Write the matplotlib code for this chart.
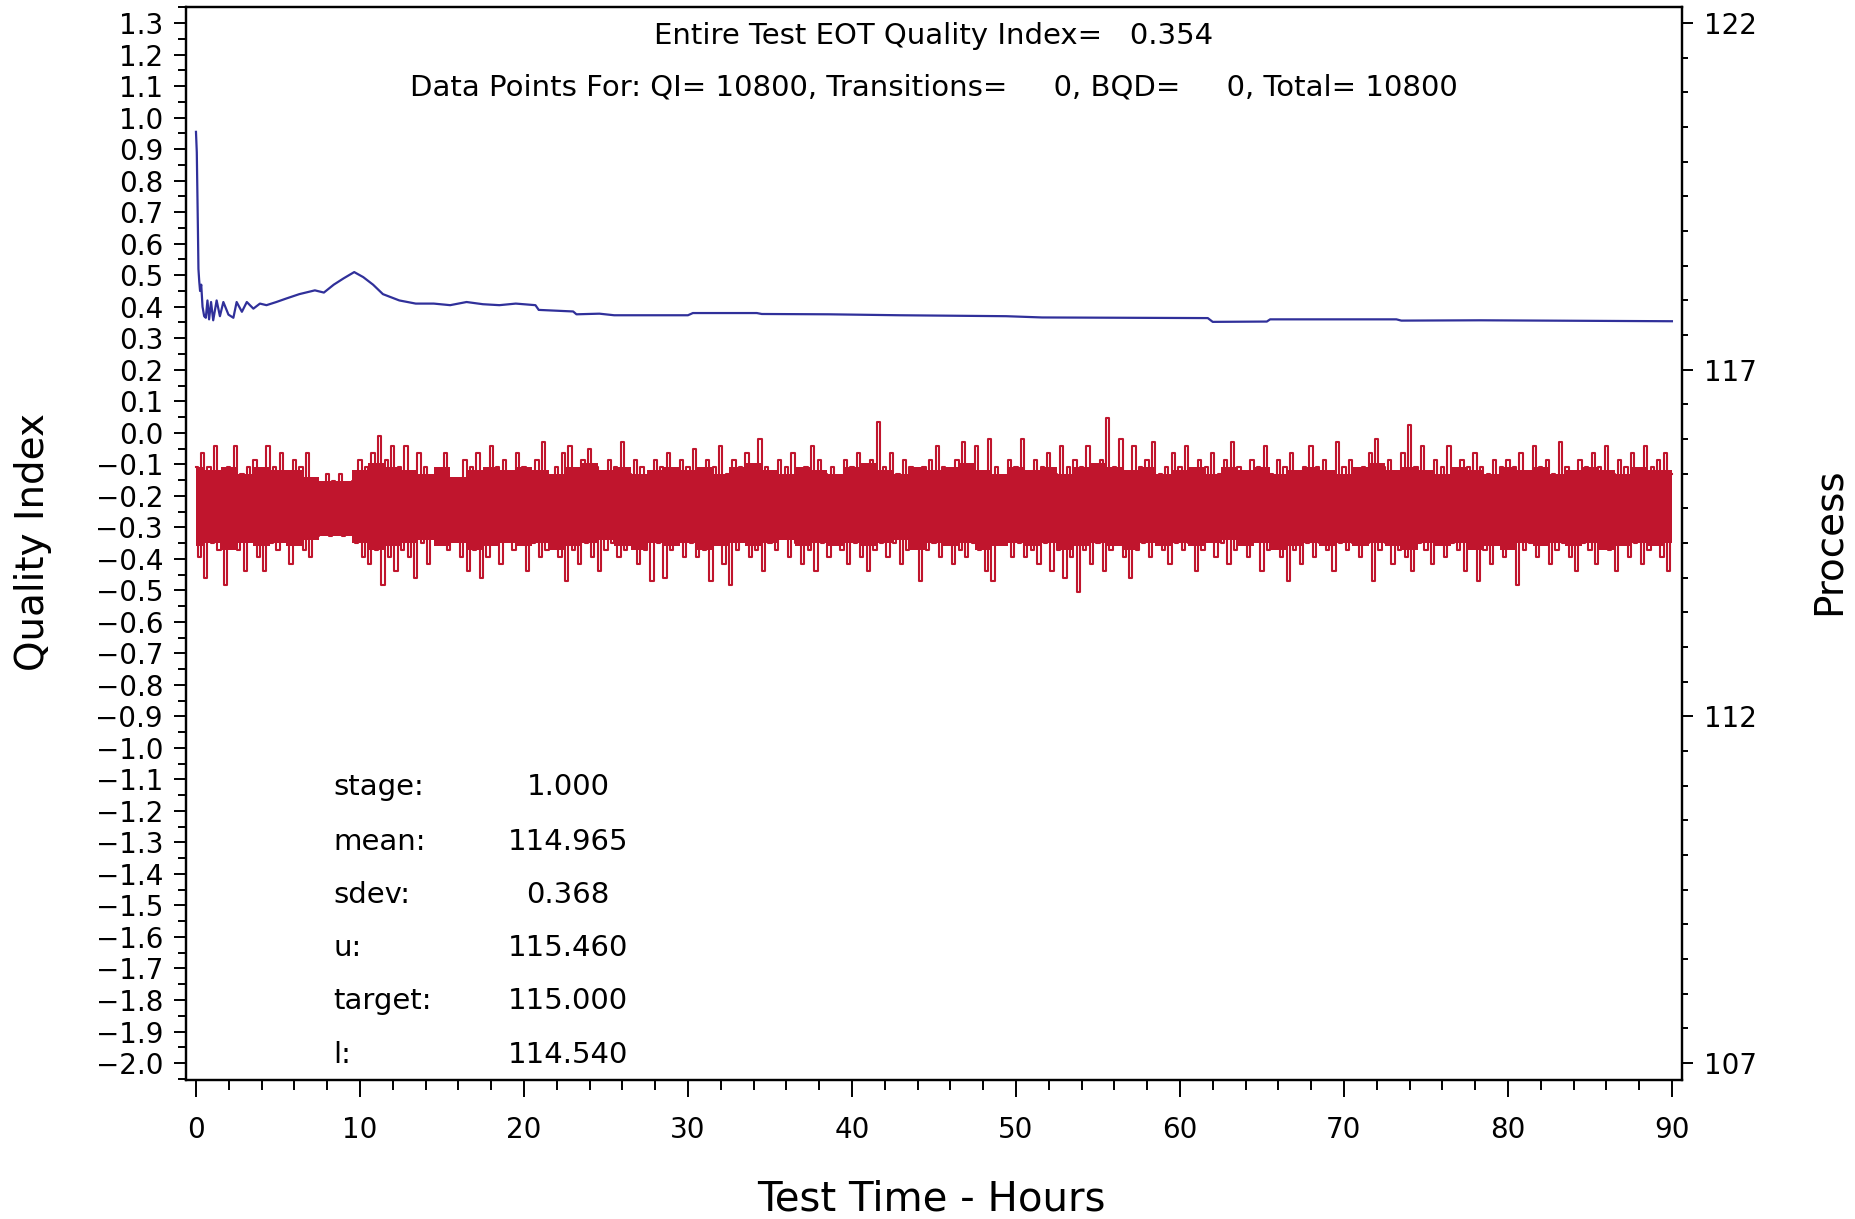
import numpy as np
import matplotlib.pyplot as plt
from matplotlib.ticker import MultipleLocator, FixedLocator, FuncFormatter

# Quality index (running value, left axis)
qi_t = [0.00, 0.05, 0.12, 0.15, 0.20, 0.25, 0.32, 0.40, 0.50, 0.60,
        0.70, 0.80, 0.92, 1.05, 1.26, 1.46, 1.67, 1.98, 2.28, 2.48,
        2.80, 3.10, 3.50, 3.90, 4.30, 4.90, 5.50, 6.30, 7.25, 7.80,
        8.40, 9.00, 9.65, 10.2, 10.8, 11.4, 12.4, 13.4, 14.5, 15.5,
        16.5, 17.5, 18.5, 19.5, 20.7, 20.9, 23.0, 23.2, 24.6, 25.5,
        30.0, 30.3, 34.2, 34.5, 38.6, 42.9, 49.4, 51.6, 61.7, 62.0,
        65.3, 65.5, 73.2, 73.5, 78.3, 90.0]
qi = [0.955, 0.89, 0.64, 0.52, 0.48, 0.45, 0.47, 0.40, 0.37, 0.365,
      0.42, 0.36, 0.415, 0.357, 0.42, 0.37, 0.415, 0.375, 0.365, 0.415,
      0.384, 0.415, 0.394, 0.41, 0.405, 0.415, 0.426, 0.44, 0.452, 0.445,
      0.47, 0.49, 0.51, 0.494, 0.47, 0.44, 0.42, 0.41, 0.41, 0.405,
      0.415, 0.408, 0.405, 0.41, 0.405, 0.39, 0.385, 0.376, 0.378, 0.373,
      0.373, 0.38, 0.38, 0.377, 0.376, 0.373, 0.37, 0.366, 0.364, 0.352,
      0.353, 0.36, 0.36, 0.356, 0.357, 0.354]

# process readings (right axis), one every 0.2 h from 0 to 90 h
proc_step = 0.2
proc = [
    # 0 - 10 h
    115.6, 114.3, 115.8, 114.0, 115.6, 114.5, 115.9, 114.4, 115.5, 113.9,
    115.6, 114.5, 115.9, 114.4, 115.5, 114.1, 115.6, 114.6, 115.7, 114.3,
    115.5, 114.1, 115.9, 114.5, 115.6, 114.4, 115.8, 114.6, 115.5, 114.2,
    115.7, 114.5, 115.6, 114.4, 115.8, 114.3, 115.4, 114.6, 115.3, 114.7,
    115.5, 114.6, 115.4, 114.8, 115.5, 114.6, 115.3, 114.7, 115.4, 114.5,
    # 10 - 20 h
    115.7, 114.3, 115.6, 114.2, 115.8, 114.4, 116.05, 113.9, 115.7, 114.3,
    115.9, 114.1, 115.6, 114.4, 115.9, 114.3, 115.5, 114.0, 115.8, 114.5,
    115.6, 114.2, 115.4, 114.6, 115.5, 114.5, 115.8, 114.4, 115.4, 114.6,
    115.3, 114.3, 115.7, 114.1, 115.6, 114.4, 115.8, 114.0, 115.5, 114.3,
    115.9, 114.5, 115.6, 114.2, 115.7, 114.6, 115.4, 114.4, 115.8, 114.5,
    # 20 - 30 h
    115.6, 114.1, 115.5, 114.5, 115.7, 114.3, 115.95, 114.4, 115.4, 114.6,
    115.6, 114.3, 115.8, 113.95, 115.9, 114.4, 115.5, 114.2, 115.7, 114.5,
    115.85, 114.3, 115.6, 114.1, 115.5, 114.4, 115.7, 114.5, 115.6, 114.3,
    115.95, 114.4, 115.5, 114.6, 115.7, 114.2, 115.6, 114.4, 115.4, 113.95,
    115.7, 114.5, 115.6, 114.0, 115.8, 114.4, 115.5, 114.6, 115.7, 114.3,
    # 30 - 40 h
    115.6, 114.5, 115.85, 114.3, 115.5, 114.4, 115.7, 113.95, 115.6, 114.5,
    115.9, 114.2, 115.5, 113.9, 115.7, 114.4, 115.6, 114.6, 115.8, 114.3,
    115.5, 114.4, 116.0, 114.1, 115.6, 114.5, 115.4, 114.4, 115.7, 114.6,
    115.6, 114.3, 115.8, 114.5, 115.5, 114.2, 115.6, 114.4, 115.9, 114.1,
    115.7, 114.5, 115.5, 114.3, 115.6, 114.6, 115.4, 114.4, 115.7, 114.2,
    # 40 - 50 h
    115.6, 114.5, 115.8, 114.3, 115.5, 114.1, 115.7, 114.4, 116.25, 114.5,
    115.6, 114.3, 115.8, 114.5, 115.5, 114.2, 115.7, 114.4, 115.6, 114.6,
    115.5, 113.95, 115.6, 114.4, 115.7, 114.5, 115.9, 114.3, 115.6, 114.5,
    115.4, 114.2, 115.7, 114.4, 115.95, 114.3, 115.6, 114.5, 115.9, 114.4,
    115.5, 114.1, 116.0, 113.95, 115.6, 114.5, 115.4, 114.6, 115.7, 114.3,
    # 50 - 60 h
    115.6, 114.5, 116.0, 114.3, 115.5, 114.4, 115.7, 114.2, 115.6, 114.5,
    115.8, 114.1, 115.5, 114.4, 115.9, 114.0, 115.6, 114.3, 115.7, 113.8,
    115.6, 114.4, 115.9, 114.2, 115.5, 114.5, 115.7, 114.1, 116.3, 114.4,
    115.6, 114.5, 116.0, 114.3, 115.5, 114.0, 115.9, 114.4, 115.6, 114.5,
    115.7, 114.3, 115.95, 114.6, 115.5, 114.4, 115.6, 114.2, 115.8, 114.5,
    # 60 - 70 h
    115.6, 114.4, 115.9, 114.5, 115.5, 114.1, 115.7, 114.4, 115.6, 114.6,
    115.8, 114.3, 115.5, 114.5, 115.7, 114.2, 115.95, 114.4, 115.6, 114.5,
    115.4, 114.3, 115.7, 114.6, 115.6, 114.1, 115.9, 114.4, 115.5, 114.5,
    115.7, 114.3, 115.6, 113.95, 115.8, 114.4, 115.5, 114.2, 115.6, 114.5,
    115.9, 114.3, 115.6, 114.5, 115.7, 114.4, 115.5, 114.1, 115.95, 114.5,
    # 70 - 80 h
    115.6, 114.4, 115.7, 114.5, 115.5, 114.3, 115.6, 114.5, 115.8, 113.95,
    116.0, 114.4, 115.6, 114.5, 115.7, 114.2, 115.5, 114.4, 115.8, 114.3,
    116.2, 114.1, 115.6, 114.5, 115.9, 114.4, 115.5, 114.2, 115.7, 114.5,
    115.6, 114.3, 115.9, 114.5, 115.5, 114.4, 115.7, 114.1, 115.6, 114.5,
    115.8, 113.95, 115.6, 114.4, 115.5, 114.2, 115.7, 114.5, 115.6, 114.3,
    # 80 - 90 h
    115.7, 114.5, 115.6, 113.9, 115.8, 114.4, 115.5, 114.5, 115.9, 114.3,
    115.6, 114.5, 115.7, 114.2, 115.5, 114.4, 115.95, 114.5, 115.6, 114.3,
    115.5, 114.1, 115.7, 114.5, 115.6, 114.4, 115.8, 114.2, 115.6, 114.5,
    115.9, 114.4, 115.5, 114.1, 115.7, 114.5, 115.6, 114.3, 115.8, 114.5,
    115.5, 114.2, 115.9, 114.4, 115.6, 114.5, 115.7, 114.3, 115.8, 114.1,
    115.5,
]
proc_t = np.arange(len(proc)) * proc_step

# solid core of the process band, read hourly (0 - 90 h)
core_hi = [115.60, 115.55, 115.60, 115.50, 115.60, 115.55, 115.55, 115.45, 115.40, 115.40,
           115.55, 115.65, 115.60, 115.55, 115.50, 115.60, 115.45, 115.55, 115.60, 115.55,
           115.60, 115.55, 115.50, 115.60, 115.65, 115.55, 115.60, 115.50, 115.55, 115.60,
           115.55, 115.60, 115.50, 115.60, 115.65, 115.55, 115.50, 115.60, 115.55, 115.50,
           115.60, 115.65, 115.55, 115.50, 115.60, 115.55, 115.60, 115.65, 115.55, 115.50,
           115.60, 115.55, 115.60, 115.50, 115.60, 115.65, 115.60, 115.55, 115.60, 115.50,
           115.55, 115.60, 115.50, 115.60, 115.55, 115.60, 115.50, 115.55, 115.60, 115.55,
           115.50, 115.60, 115.65, 115.55, 115.60, 115.55, 115.50, 115.60, 115.55, 115.50,
           115.60, 115.55, 115.60, 115.50, 115.55, 115.60, 115.55, 115.50, 115.60, 115.55,
           115.55]
core_lo = [114.45, 114.50, 114.40, 114.50, 114.45, 114.50, 114.45, 114.55, 114.60, 114.60,
           114.50, 114.40, 114.45, 114.50, 114.55, 114.45, 114.50, 114.40, 114.45, 114.50,
           114.45, 114.50, 114.40, 114.45, 114.50, 114.55, 114.45, 114.40, 114.50, 114.45,
           114.50, 114.40, 114.45, 114.50, 114.45, 114.50, 114.55, 114.45, 114.50, 114.45,
           114.50, 114.45, 114.50, 114.55, 114.40, 114.50, 114.45, 114.50, 114.40, 114.45,
           114.50, 114.45, 114.50, 114.40, 114.45, 114.50, 114.45, 114.40, 114.50, 114.45,
           114.50, 114.45, 114.50, 114.55, 114.45, 114.50, 114.40, 114.45, 114.50, 114.45,
           114.50, 114.45, 114.50, 114.45, 114.40, 114.50, 114.45, 114.50, 114.40, 114.45,
           114.40, 114.50, 114.45, 114.50, 114.45, 114.50, 114.40, 114.45, 114.50, 114.45,
           114.50]
core_t = np.arange(len(core_hi))

# summary block in the lower left
stat_names = ['stage:', 'mean:', 'sdev:', 'u:', 'target:', 'l:']
stat_vals = ['1.000', '114.965', '0.368', '115.460', '115.000', '114.540']

title1 = 'Entire Test EOT Quality Index=   0.354'
title2 = 'Data Points For: QI= 10800, Transitions=     0, BQD=     0, Total= 10800'

plt.rcParams['font.family'] = ['DejaVu Sans']

red = '#c0152d'

fig = plt.figure(figsize=(18.56, 12.19), dpi=100)
ax = fig.add_axes([0.1002, 0.1140, 0.8060, 0.8802])
ax2 = ax.twinx()

ax2.fill_between(core_t, core_lo, core_hi, step='mid', color=red, lw=0)
ax2.plot(proc_t, proc, color=red, lw=1.5, drawstyle='steps-mid')
ax.plot(qi_t, qi, color='#30309a', lw=1.6)

ax.set_zorder(ax2.get_zorder() + 1)
ax.patch.set_visible(False)

ax.set_xlim(-0.61, 90.61)
ax.set_ylim(-2.054, 1.351)
ax2.set_ylim(106.755, 122.23)

# left axis: every 0.1, minor half steps
ax.yaxis.set_major_locator(FixedLocator(np.arange(-20, 14) / 10))
ax.yaxis.set_minor_locator(MultipleLocator(0.05))
ax.yaxis.set_major_formatter(FuncFormatter(
    lambda v, p: f"{round(v, 1) + 0.0:.1f}".replace('-', '\u2212')))
ax.xaxis.set_major_locator(MultipleLocator(10))
ax.xaxis.set_minor_locator(MultipleLocator(2))

ax2.yaxis.set_major_locator(FixedLocator([107, 112, 117, 122]))
ax2.yaxis.set_minor_locator(MultipleLocator(0.5))

ax.tick_params(axis='y', which='major', length=8.5, width=1.4, labelsize=20, pad=8)
ax.tick_params(axis='y', which='minor', length=6, width=1.4)
ax.tick_params(axis='x', which='major', length=12, width=1.4, labelsize=20, pad=14)
ax.tick_params(axis='x', which='minor', length=7, width=1.4)
ax2.tick_params(axis='y', which='major', length=8, width=1.4, labelsize=20, pad=8)
ax2.tick_params(axis='y', which='minor', length=4.5, width=1.4)

for a in (ax, ax2):
    for s in a.spines.values():
        s.set_linewidth(1.6)

ax.text(0.5, 0.9734, title1, transform=ax.transAxes, ha='center', va='center', fontsize=21)
ax.text(0.5, 0.9249, title2, transform=ax.transAxes, ha='center', va='center', fontsize=21)

stat_y = [-1.124, -1.298, -1.467, -1.635, -1.803, -1.974]
for name, val, y in zip(stat_names, stat_vals, stat_y):
    ax.text(8.4, y, name, ha='left', va='center', fontsize=21)
    ax.text(22.7, y, val, ha='center', va='center', fontsize=21)

fig.text(0.0178, 0.555, 'Quality Index', rotation=90, ha='center', va='center', fontsize=28)
fig.text(0.9855, 0.556, 'Process', rotation=90, ha='center', va='center', fontsize=28)
fig.text(0.5016, 0.0164, 'Test Time - Hours', ha='center', va='center', fontsize=29)

fig.savefig('out.png', dpi=100)
